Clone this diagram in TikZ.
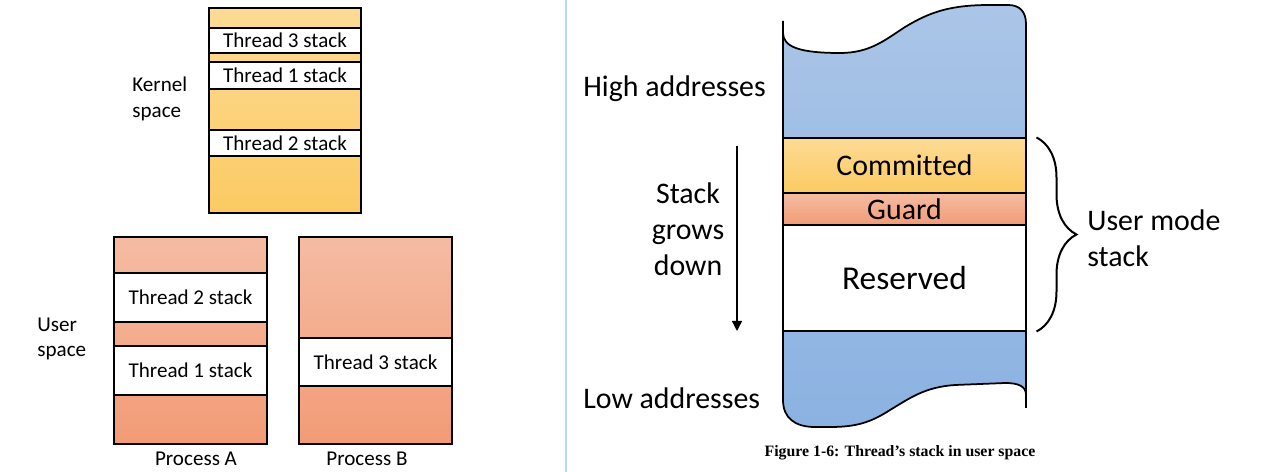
\documentclass[tikz,border=0pt]{standalone}
\usepackage{fontspec}
\setmainfont{Carlito}[Ligatures=NoCommon]
\newfontfamily\capfont{Liberation Serif}
\usetikzlibrary{arrows.meta,decorations.pathreplacing,positioning}
\definecolor{kernelhi}{HTML}{FDDB95}
\definecolor{kernello}{HTML}{FBCA62}
\definecolor{userhi}{HTML}{F5BCA3}
\definecolor{userlo}{HTML}{F29B76}
\definecolor{memhi}{HTML}{AAC5E7}
\definecolor{memlo}{HTML}{8BB2E2}
\definecolor{dividerblue}{HTML}{BBD6F6}

\begin{document}
\begin{tikzpicture}[x=0.02cm,y=-0.02cm,
    smallfont/.style={font=\fontsize{12}{14.5}\selectfont},
    bigfont/.style={font=\fontsize{17}{20.5}\selectfont},
    kernelfill/.style={draw,line width=0.6pt,top color=kernelhi,bottom color=kernello},
    userfill/.style={draw,line width=0.6pt,top color=userhi,bottom color=userlo},
    stackband/.style={draw,line width=0.6pt,fill=white,inner sep=0pt,smallfont},
    memband/.style={draw,line width=0.6pt,inner sep=0pt,minimum width=4.86cm,bigfont}]
  \path[fill=white,use as bounding box] (0,0) rectangle (1264,472);

  % kernel space
  \draw[kernelfill] (209,8) rectangle (361,213);
  \node[stackband,minimum width=3.04cm,minimum height=0.5cm] (k3) at (285,40.5) {Thread 3 stack};
  \node[stackband,minimum width=3.04cm,minimum height=0.54cm] (k1) at (285,75.5) {Thread 1 stack};
  \node[stackband,minimum width=3.04cm,minimum height=0.52cm] (k2) at (285,143) {Thread 2 stack};
  \node[smallfont,align=left,anchor=west,inner sep=0pt] (kernel) at (132,99) {Kernel\\space};

  % user space
  \draw[userfill] (114,237) rectangle (267,444);
  \draw[userfill] (299,237) rectangle (452,444);
  \node[stackband,minimum width=3.06cm,minimum height=0.98cm] (a2) at (190.5,297.5) {Thread 2 stack};
  \node[stackband,minimum width=3.06cm,minimum height=0.98cm] (a1) at (190.5,370.5) {Thread 1 stack};
  \node[stackband,minimum width=3.06cm,minimum height=0.96cm] (b3) at (375.5,362) {Thread 3 stack};
  \node[smallfont,align=left,anchor=west,inner sep=0pt] (user) at (37,339) {User\\space};
  \node[smallfont] (procA) at (196,459) {Process A};
  \node[smallfont] (procB) at (367,459) {Process B};

  \draw[dividerblue,line width=0.04cm] (566,0) -- (566,472);

  % stack in user space
  \path[top color=memhi,bottom color=memlo]
    (783,33) .. controls (783,47) and (800,53) .. (840,53)
    .. controls (870,53) and (885,40) .. (905,27)
    .. controls (930,12) and (950,5) .. (990,5) -- (1008,5)
    .. controls (1020,5) and (1026,12) .. (1026,24) -- (1026,395)
    .. controls (1026,386) and (1018,383) .. (1005,383) -- (955,385)
    .. controls (925,387) and (910,398) .. (890,410)
    .. controls (870,423) and (855,427) .. (830,427) -- (815,427)
    .. controls (795,427) and (783,418) .. (783,400) -- cycle;
  \node[memband,minimum height=1.1cm,top color=kernelhi,bottom color=kernello] (committed) at (904.5,165.5) {Committed};
  \node[memband,minimum height=0.64cm,top color=userhi,bottom color=userlo] (guard) at (904.5,209) {Guard};
  \node[memband,minimum height=2.12cm,fill=white,font=\fontsize{19}{22}\selectfont] (reserved) at (904.5,278) {Reserved};
  \draw[line width=0.035cm] (783,21) -- (783,33) .. controls (783,47) and (800,53) .. (840,53)
    .. controls (870,53) and (885,40) .. (905,27)
    .. controls (930,12) and (950,5) .. (990,5) -- (1008,5)
    .. controls (1020,5) and (1026,12) .. (1026,24) -- (1026,408);
  \draw[line width=0.035cm] (1026,395) .. controls (1026,386) and (1018,383) .. (1005,383) -- (955,385)
    .. controls (925,387) and (910,398) .. (890,410)
    .. controls (870,423) and (855,427) .. (830,427) -- (815,427)
    .. controls (795,427) and (783,418) .. (783,400) -- (783,33);

  \node[bigfont,anchor=west,inner sep=0pt] (high) at (583,89) {High addresses};
  \node[bigfont,anchor=west,inner sep=0pt] (low) at (583,398) {Low addresses};
  \node[bigfont,align=center] (grows) at (688,229) {Stack\\grows\\down};
  \coordinate (arrtop) at (737,146);
  \coordinate (arrbot) at (737,331);
  \draw[line width=0.8pt,-{Triangle[length=0.2cm,width=0.2cm]}] (arrtop) -- (arrbot);

  \draw[line width=0.04cm,decorate,decoration={brace,amplitude=0.8cm}]
    ([xshift=0.2cm]committed.north east) -- ([xshift=0.2cm]reserved.south east);
  \node[bigfont,align=left,anchor=west,inner sep=0pt] (umstack) at (1087,238) {User mode\\stack};

  \node[font=\capfont\bfseries\fontsize{9}{11}\selectfont] (caption) at (900,453) {Figure 1-6: Thread’s stack in user space};
\end{tikzpicture}
\end{document}
